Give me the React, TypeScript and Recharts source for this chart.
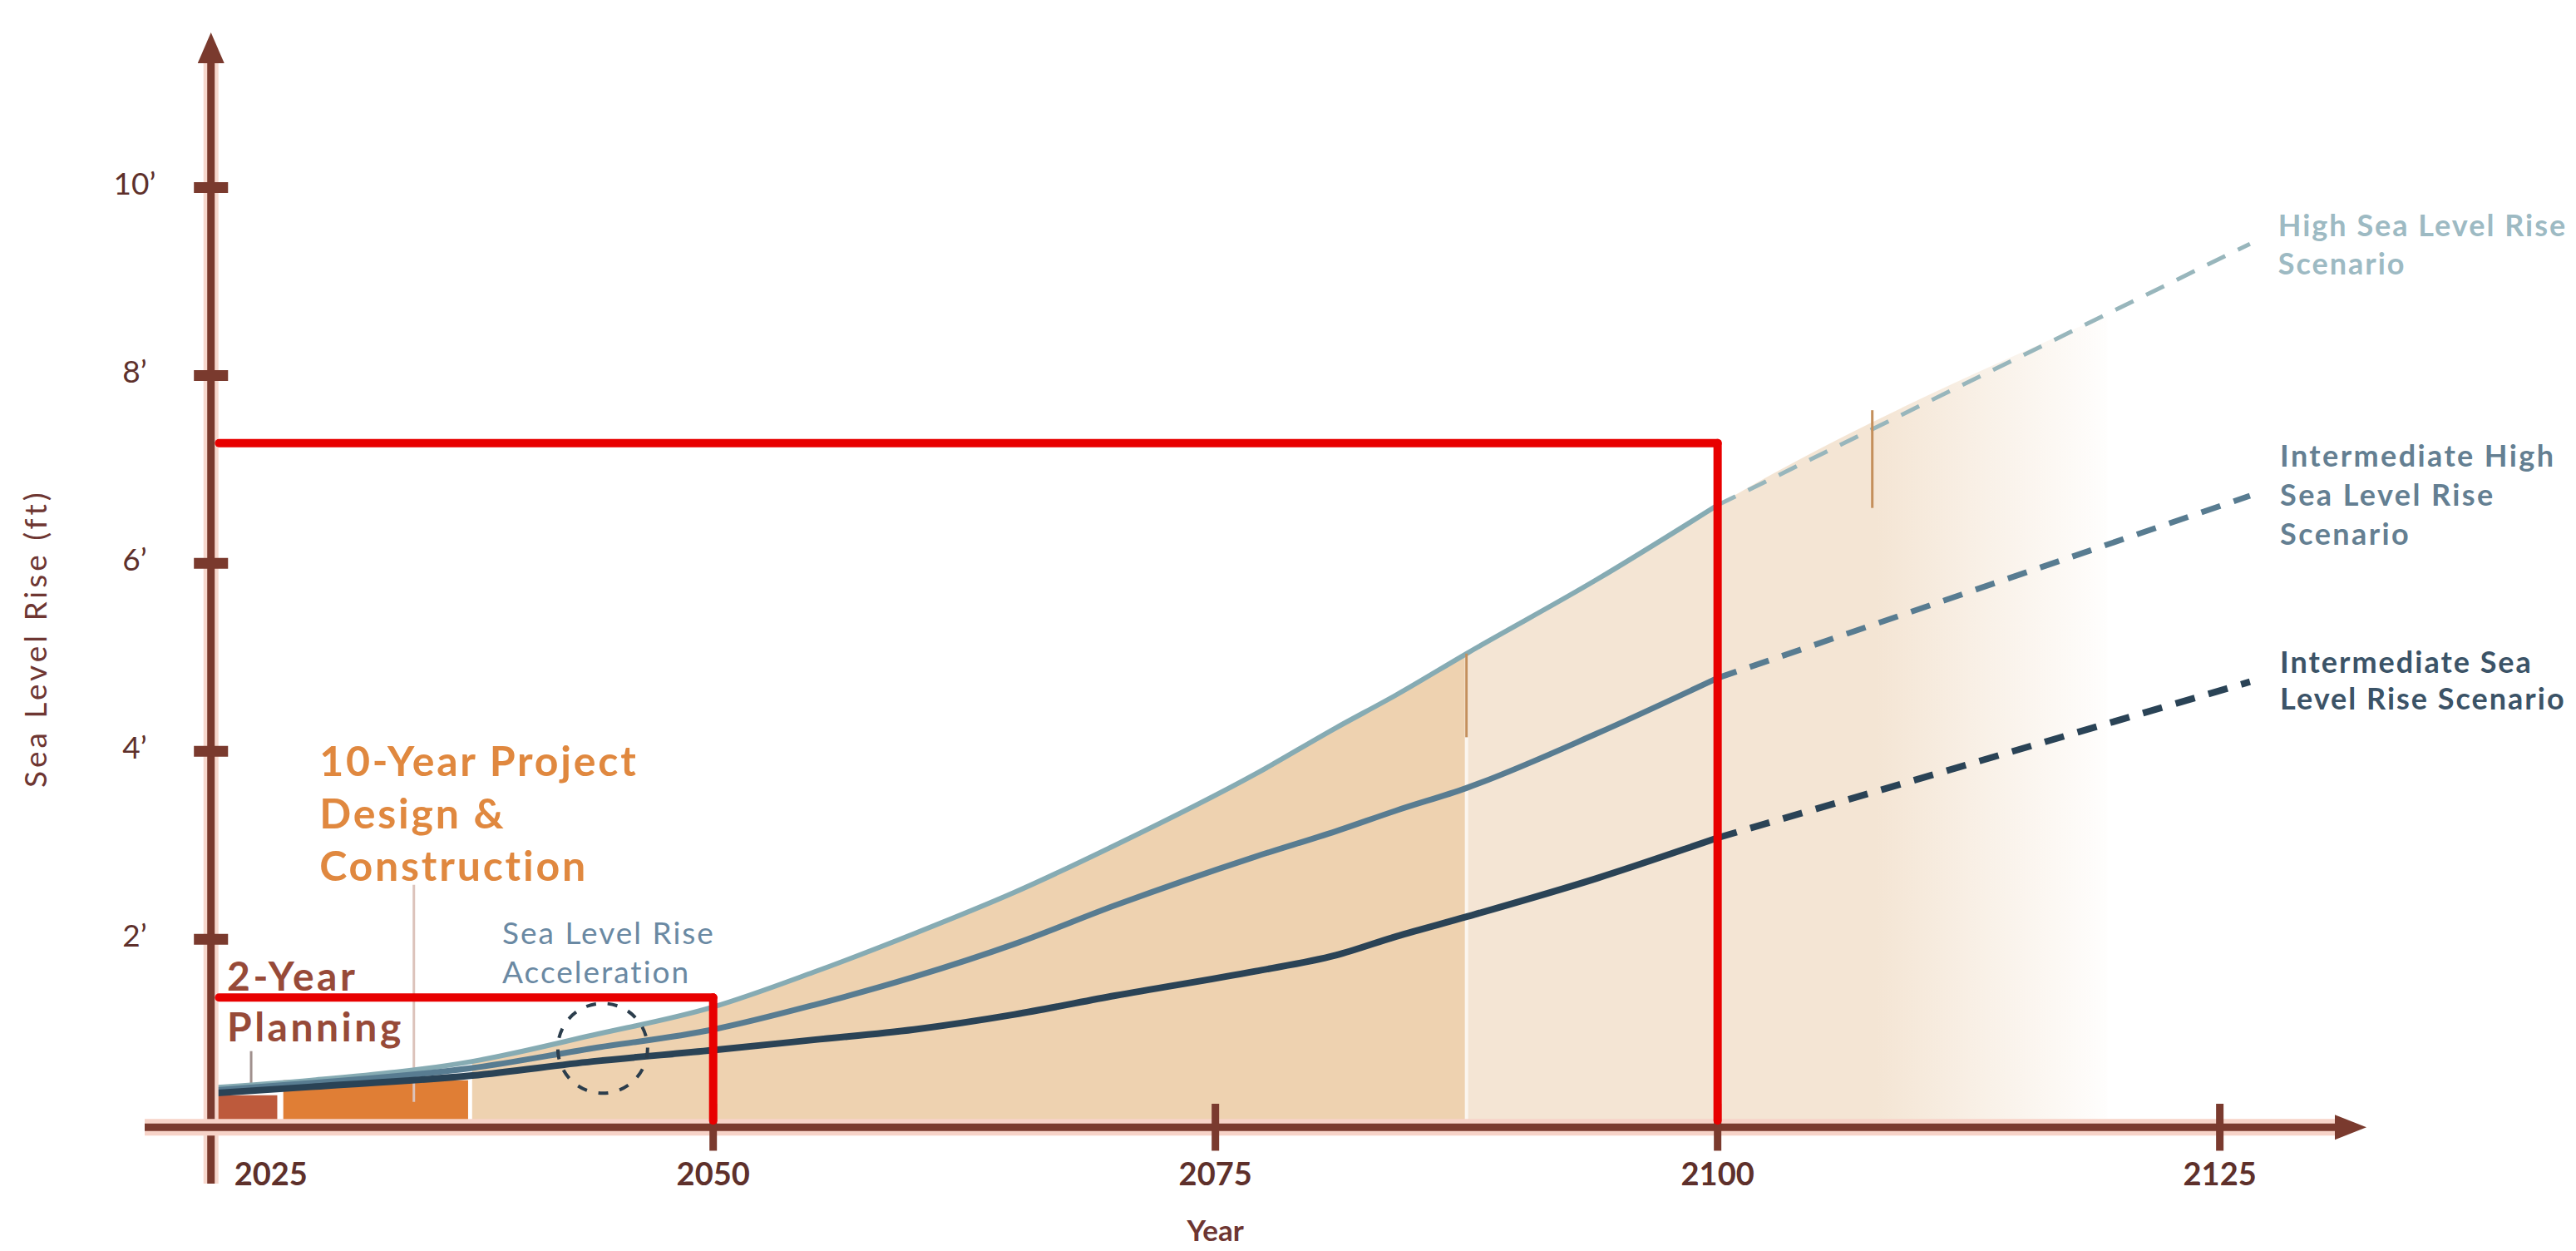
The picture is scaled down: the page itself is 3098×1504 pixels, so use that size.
import React from 'react';
import {
    ComposedChart,
    Area,
    Line,
    XAxis,
    YAxis,
    ReferenceLine,
    ReferenceArea,
    ReferenceDot,
} from 'recharts';

// years, solid part of the scenarios (to 2100)
const YEARS = [2025, 2030, 2038, 2044, 2050, 2055, 2060, 2065, 2070, 2077, 2081, 2084, 2087.5, 2094, 2100];
const HIGH_RISE = [0.42, 0.5, 0.7, 0.98, 1.28, 1.65, 2.06, 2.5, 3.0, 3.76, 4.25, 4.6, 5.04, 5.83, 6.62];
const INT_HIGH_RISE = [0.39, 0.47, 0.63, 0.84, 1.04, 1.3, 1.6, 1.95, 2.36, 2.88, 3.15, 3.37, 3.61, 4.19, 4.78];
const INT_RISE = [0.36, 0.43, 0.55, 0.7, 0.82, 0.93, 1.04, 1.2, 1.4, 1.66, 1.83, 2.03, 2.24, 2.65, 3.08];

// dashed projections past 2100
const PROJ_YEARS = [2100, 2126.5];
const HIGH_PROJ = [6.62, 9.4];
const INT_HIGH_PROJ = [4.78, 6.72];
const INT_PROJ = [3.08, 4.74];

// shading: starts after the construction block, darker up to the split year, pale (fading) after it
const SHADE_START = 2038;
const SHADE_SPLIT = 2087.5;
const SHADE_END_YEAR = 2119.4;
const SHADE_END_RISE = 8.65;

// project phases
const PLANNING = [2025, 2028.3];
const PLANNING_TOP = 0.34;
const CONSTRUCTION = [2028.6, 2037.8];
const CONSTRUCTION_TOP = 0.5;

// axes
const X_DOMAIN = [2021.7, 2132.3];
const Y_DOMAIN = [-0.6, 11.65];
const X_TICKS = [2025, 2050, 2075, 2100, 2125];
const Y_TICKS = [2, 4, 6, 8, 10];

// red markup (year, rise)
const MARK_START = 2025.4;
const MARK_A = { year: 2050, rise: 1.38 };
const MARK_B = { year: 2100, rise: 7.28 };

const AXIS = '#7a3a2e';
const FONT = 'Lato, "Open Sans", sans-serif';

const toPoints = (xs: number[], ys: number[]) => xs.map((year, i) => ({ year, rise: ys[i] }));

const high = toPoints(YEARS, HIGH_RISE);
const intHigh = toPoints(YEARS, INT_HIGH_RISE);
const inter = toPoints(YEARS, INT_RISE);
const highProj = toPoints(PROJ_YEARS, HIGH_PROJ);
const intHighProj = toPoints(PROJ_YEARS, INT_HIGH_PROJ);
const interProj = toPoints(PROJ_YEARS, INT_PROJ);
const splitRise = HIGH_RISE[YEARS.indexOf(SHADE_SPLIT)];

const shadeDark = high.filter((p) => p.year >= SHADE_START && p.year <= SHADE_SPLIT);
const shadePale = [...high.filter((p) => p.year >= SHADE_SPLIT), { year: SHADE_END_YEAR, rise: SHADE_END_RISE }];

function yAxisShape(props: any) {
    const { x1, y1, y2 } = props;
    const top = Math.min(y1, y2);
    const bottom = Math.max(y1, y2);
    return (
        <g>
            <line x1={x1} y1={bottom} x2={x1} y2={top + 30} stroke="#f7d8ce" strokeWidth={18} />
            <line x1={x1} y1={bottom} x2={x1} y2={top + 30} stroke={AXIS} strokeWidth={9} />
            <polygon points={`${x1},${top} ${x1 - 16},${top + 37} ${x1 + 16},${top + 37}`} fill={AXIS} />
        </g>
    );
}

function xAxisShape(props: any) {
    const { x1, x2, y1 } = props;
    const left = Math.min(x1, x2);
    const right = Math.max(x1, x2);
    return (
        <g>
            <line x1={left} y1={y1} x2={right - 30} y2={y1} stroke="#f7d3c8" strokeWidth={20} />
            <line x1={left} y1={y1} x2={right - 30} y2={y1} stroke={AXIS} strokeWidth={9} />
            <polygon points={`${right},${y1} ${right - 38},${y1 - 15} ${right - 38},${y1 + 15}`} fill={AXIS} />
        </g>
    );
}

const YTick = (props: any) => {
    const { x, y, payload } = props;
    return (
        <text x={x - 12} y={y - 6} textAnchor="middle" dominantBaseline="central" fontSize={37}
            fill="#5e302b" fontFamily={FONT}>
            {`${payload.value}’`}
        </text>
    );
};

const XTick = (props: any) => {
    const { x, y, payload } = props;
    const first = payload.value === X_TICKS[0];
    return (
        <text x={first ? x + 28 : x} y={y - 13} textAnchor={first ? 'start' : 'middle'}
            dominantBaseline="central" fontSize={38} fontWeight={700} fill="#5e302b" fontFamily={FONT}>
            {payload.value}
        </text>
    );
};

interface NoteStyle {
    color: string;
    size: number;
    weight: number;
    lineHeight: number;
    spacing?: number;
}

function note(lines: string[], s: NoteStyle) {
    return (props: any) => {
        const { x, y } = props.viewBox;
        return (
            <text x={x} y={y} fill={s.color} fontSize={s.size} fontWeight={s.weight}
                fontFamily={FONT} letterSpacing={s.spacing ?? 0}>
                {lines.map((line, i) => (
                    <tspan key={i} x={x} dy={i === 0 ? '0.36em' : s.lineHeight}>{line}</tspan>
                ))}
            </text>
        );
    };
}

const yTitle = (props: any) => {
    const { x, y } = props.viewBox;
    return (
        <text x={x} y={y} transform={`rotate(-90 ${x} ${y})`} textAnchor="middle" dominantBaseline="central"
            fontSize={37} fill="#6e3632" fontFamily={FONT} letterSpacing={4}>
            Sea Level Rise (ft)
        </text>
    );
};

const xTitle = (props: any) => {
    const { x, y } = props.viewBox;
    return (
        <text x={x} y={y} textAnchor="middle" dominantBaseline="central" fontSize={35} fontWeight={700}
            fill="#6e3632" fontFamily={FONT}>
            Year
        </text>
    );
};

const dotProps = { r: 0, fill: 'none', stroke: 'none', ifOverflow: 'visible' as const };

export default function App() {
    return (
        <div style={{ position: 'absolute', left: 0, top: 0, width: 3098, height: 1504, background: '#fff' }}>
            <ComposedChart width={3098} height={1504} margin={{ top: 39, right: 252, bottom: 41, left: 94 }}>
                <defs>
                    <linearGradient id="paleFade" x1="0" y1="0" x2="1" y2="0">
                        <stop offset="0" stopColor="#f4e5d4" stopOpacity={1} />
                        <stop offset="0.64" stopColor="#f4e5d4" stopOpacity={1} />
                        <stop offset="1" stopColor="#f4e5d4" stopOpacity={0.05} />
                    </linearGradient>
                </defs>
                <XAxis type="number" dataKey="year" domain={X_DOMAIN} ticks={X_TICKS} allowDataOverflow
                    axisLine={false} tickLine={false} tickSize={0} tickMargin={0} height={40}
                    tick={(p: any) => <XTick {...p} />} />
                <YAxis type="number" domain={Y_DOMAIN} ticks={Y_TICKS} allowDataOverflow
                    axisLine={false} tickLine={false} tickSize={0} tickMargin={0} width={80}
                    tick={(p: any) => <YTick {...p} />} />

                {/* shaded envelope under the high scenario */}
                <Area data={shadeDark} dataKey="rise" type="monotone" baseValue={0} fill="#eed2b0"
                    fillOpacity={1} stroke="none" isAnimationActive={false} />
                <Area data={shadePale} dataKey="rise" type="monotone" baseValue={0} fill="url(#paleFade)"
                    fillOpacity={1} stroke="none" isAnimationActive={false} />
                <ReferenceLine segment={[{ x: SHADE_SPLIT, y: 0 }, { x: SHADE_SPLIT, y: splitRise }]}
                    stroke="#fbf6ef" strokeWidth={4} />

                {/* planning / construction blocks */}
                <ReferenceArea x1={PLANNING[0]} x2={PLANNING[1]} y1={0} y2={PLANNING_TOP}
                    fill="#bd5a3c" fillOpacity={1} stroke="none" />
                <ReferenceArea x1={CONSTRUCTION[0]} x2={CONSTRUCTION[1]} y1={0} y2={CONSTRUCTION_TOP}
                    fill="#e07e35" fillOpacity={1} stroke="none" />

                {/* leader lines */}
                <ReferenceLine segment={[{ x: 2027, y: 0.37 }, { x: 2027, y: 0.81 }]} stroke="#a0908d" strokeWidth={3} />
                <ReferenceLine segment={[{ x: 2035.1, y: 0.27 }, { x: 2035.1, y: 2.58 }]} stroke="#dcc3bb" strokeWidth={3} />

                {/* scenarios */}
                <Line data={high} dataKey="rise" type="monotone" stroke="#86abb3" strokeWidth={6}
                    dot={false} isAnimationActive={false} />
                <Line data={intHigh} dataKey="rise" type="monotone" stroke="#587c91" strokeWidth={7}
                    dot={false} isAnimationActive={false} />
                <Line data={inter} dataKey="rise" type="monotone" stroke="#2a4356" strokeWidth={8}
                    dot={false} isAnimationActive={false} />
                <Line data={highProj} dataKey="rise" type="linear" stroke="#98b6bc" strokeWidth={5}
                    strokeDasharray="24 17" dot={false} isAnimationActive={false} />
                <Line data={intHighProj} dataKey="rise" type="linear" stroke="#587c91" strokeWidth={7}
                    strokeDasharray="24 17" dot={false} isAnimationActive={false} />
                <Line data={interProj} dataKey="rise" type="linear" stroke="#2a4356" strokeWidth={8}
                    strokeDasharray="24 17" dot={false} isAnimationActive={false} />

                {/* acceleration circle and uncertainty arrows */}
                <ReferenceDot x={2044.5} y={0.84} r={54} fill="none" stroke="#2b3d4c" strokeWidth={4}
                    strokeDasharray="12 14" />
                <ReferenceLine segment={[{ x: SHADE_SPLIT, y: splitRise }, { x: SHADE_SPLIT, y: 4.15 }]}
                    stroke="#c48f5b" strokeWidth={3} />
                <ReferenceLine segment={[{ x: 2107.7, y: 7.63 }, { x: 2107.7, y: 6.59 }]}
                    stroke="#c48f5b" strokeWidth={3} />

                {/* axes */}
                <ReferenceLine x={X_TICKS[0]} stroke={AXIS} shape={yAxisShape} />
                <ReferenceLine y={0} stroke={AXIS} shape={xAxisShape} />
                {Y_TICKS.map((v) => (
                    <ReferenceLine key={`yt${v}`} segment={[{ x: X_TICKS[0] - 0.85, y: v }, { x: X_TICKS[0] + 0.85, y: v }]}
                        stroke={AXIS} strokeWidth={13} />
                ))}
                {X_TICKS.slice(1).map((v) => (
                    <ReferenceLine key={`xt${v}`} segment={[{ x: v, y: -0.25 }, { x: v, y: 0.25 }]}
                        stroke={AXIS} strokeWidth={9} />
                ))}

                {/* red markup */}
                <ReferenceLine segment={[{ x: MARK_START, y: MARK_B.rise }, { x: MARK_B.year, y: MARK_B.rise }]}
                    stroke="#e80000" strokeWidth={10} strokeLinecap="round" />
                <ReferenceLine segment={[{ x: MARK_B.year, y: MARK_B.rise }, { x: MARK_B.year, y: 0.07 }]}
                    stroke="#e80000" strokeWidth={10} strokeLinecap="round" />
                <ReferenceLine segment={[{ x: MARK_START, y: MARK_A.rise }, { x: MARK_A.year, y: MARK_A.rise }]}
                    stroke="#e80000" strokeWidth={10} strokeLinecap="round" />
                <ReferenceLine segment={[{ x: MARK_A.year, y: MARK_A.rise }, { x: MARK_A.year, y: 0.07 }]}
                    stroke="#e80000" strokeWidth={10} strokeLinecap="round" />

                {/* text notes */}
                <ReferenceDot x={2025.8} y={1.61} {...dotProps}
                    label={note(['2-Year', 'Planning'], { color: '#974a38', size: 48, weight: 700, lineHeight: 61, spacing: 3.5 })} />
                <ReferenceDot x={2030.4} y={3.9} {...dotProps}
                    label={note(['10-Year Project', 'Design &', 'Construction'], { color: '#e0883f', size: 50, weight: 700, lineHeight: 63, spacing: 2.8 })} />
                <ReferenceDot x={2039.5} y={2.07} {...dotProps}
                    label={note(['Sea Level Rise', 'Acceleration'], { color: '#6a89a3', size: 37, weight: 400, lineHeight: 47, spacing: 2 })} />
                <ReferenceDot x={2127.9} y={9.6} {...dotProps}
                    label={note(['High Sea Level Rise', 'Scenario'], { color: '#9dbac3', size: 36, weight: 700, lineHeight: 46, spacing: 2 })} />
                <ReferenceDot x={2128} y={7.14} {...dotProps}
                    label={note(['Intermediate High', 'Sea Level Rise', 'Scenario'], { color: '#647f92', size: 36, weight: 700, lineHeight: 47, spacing: 2.4 })} />
                <ReferenceDot x={2128} y={4.95} {...dotProps}
                    label={note(['Intermediate Sea', 'Level Rise Scenario'], { color: '#3b5367', size: 36, weight: 700, lineHeight: 44, spacing: 2 })} />
                <ReferenceDot x={2016.2} y={5.2} {...dotProps} label={yTitle} />
                <ReferenceDot x={2075} y={-1.09} {...dotProps} label={xTitle} />
            </ComposedChart>
        </div>
    );
}
